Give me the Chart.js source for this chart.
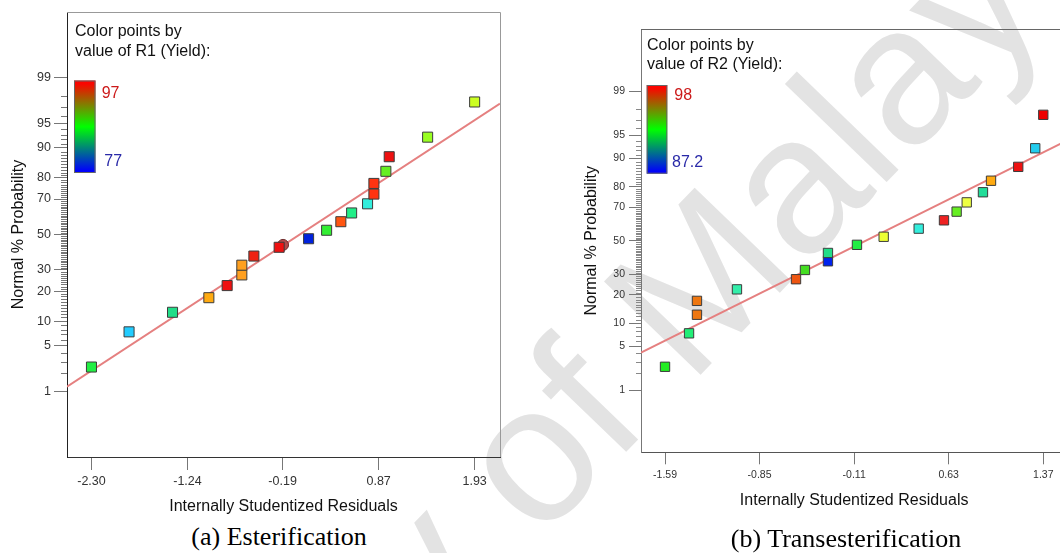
<!DOCTYPE html>
<html>
<head>
<meta charset="utf-8">
<script src="https://cdn.jsdelivr.net/npm/chart.js@4.4.1/dist/chart.umd.min.js"></script>
<style>
  html, body { margin: 0; padding: 0; background: #fff; overflow: hidden; }
  #page { position: relative; width: 1060px; height: 553px; overflow: hidden; background: #fff; }
  #mark { position: absolute; left: 0; top: 0; }
  canvas { position: absolute; top: 0; }
  .caption { position: absolute; font-family: "Liberation Serif", "Times New Roman", serif; font-size: 26px;
             line-height: 30px; color: #000; white-space: nowrap; transform: translateX(-50%); }
</style>
</head>
<body>
<div id="page">
  <svg id="mark" width="1060" height="553">
    <text id="markText" x="0" y="0" font-family="Liberation Sans, Arial, sans-serif"
          font-size="195" fill="#e3e3e3">University of Malaya</text>
  </svg>
  <canvas id="chartA" width="530" height="522" style="left:0px"></canvas>
  <canvas id="chartB" width="560" height="525" style="left:560px"></canvas>
  <div class="caption" id="capA" style="left:279px; top:522px">(a) Esterification</div>
  <div class="caption" id="capB" style="left:846px; top:524px">(b) Transesterification</div>
</div>
<script>
// ---- normal probability axis ticks (percent) ----
const yMajorTicks = [1, 5, 10, 20, 30, 50, 70, 80, 90, 95, 99];
const yRangePct = [0.05, 99.95];

// ---- (a) Esterification: R1 (Yield) ----
const residualsA = [-2.30, -1.885, -1.405, -1.004, -0.802, -0.640, -0.640, -0.507, -0.228, 0.097,
                    0.296, 0.453, 0.572, 0.748, 0.818, 0.818, 0.950, 0.987, 1.411, 1.93];
const probabilityA = [2.5, 7.5, 12.5, 17.5, 22.5, 27.5, 32.5, 37.5, 42.5, 47.5,
                      52.5, 57.5, 62.5, 67.5, 72.5, 77.5, 82.5, 87.5, 92.5, 97.5];
const pointColorsA = ['#22ee44', '#22ccff', '#22dd88', '#ffaa11', '#ee1111', '#ffa020', '#ffa020', '#ee2211',
                      '#ee1111', '#0022dd', '#33ee33', '#ff5511', '#22ee88', '#33eedd', '#ff3311', '#ff3311',
                      '#66ee22', '#ee1111', '#99ff22', '#ccff22'];
const fitLineA = [{ x: -2.57, p: 1.22 }, { x: 2.21, p: 97.35 }];
const markedPointA = [{ x: -0.185, p: 43.9 }];
const xTicksA = [-2.30, -1.24, -0.19, 0.87, 1.93];
const xRangeA = [-2.57, 2.21];
const keyTitleA = ['Color points by', 'value of R1 (Yield):'];
const keyMaxA = '97', keyMinA = '77';

// ---- (b) Transesterification: R2 (Yield) ----
const residualsB = [-1.59, -1.402, -1.340, -1.340, -1.027, -0.565, -0.495, -0.315, -0.315, -0.088,
                    0.121, 0.395, 0.593, 0.692, 0.771, 0.898, 0.961, 1.174, 1.307, 1.37];
const probabilityB = [2.5, 7.5, 12.5, 17.5, 22.5, 27.5, 32.5, 37.5, 42.5, 47.5,
                      52.5, 57.5, 62.5, 67.5, 72.5, 77.5, 82.5, 87.5, 92.5, 97.5];
const pointColorsB = ['#22ee22', '#22ee77', '#ee7711', '#ee7711', '#33eeaa', '#ee5511', '#44dd22', '#0022ee',
                      '#22dd88', '#22ee44', '#eeff33', '#33eedd', '#ee2222', '#66ee22', '#eeff44', '#22dd99',
                      '#ffaa11', '#ee1111', '#22ccee', '#ee0000'];
const fitLineB = [{ x: -1.778, p: 4.09 }, { x: 1.558, p: 94.1 }];
const xTicksB = [-1.59, -0.85, -0.11, 0.63, 1.37];
const xRangeB = [-1.778, 1.558];
const keyTitleB = ['Color points by', 'value of R2 (Yield):'];
const keyMaxB = '98', keyMinB = '87.2';

// Diagonal background text: centre of its "o" (index 11) goes to this spot
(function placeMark() {
  const t = document.getElementById('markText');
  const fs = 195, idx = 11, target = [540, 468], angle = -46;
  const cx = t.getStartPositionOfChar(idx).x + t.getSubStringLength(idx, 1) / 2;
  const cy = -0.26 * fs;
  t.setAttribute('transform', `translate(${target[0]} ${target[1]}) rotate(${angle}) translate(${-cx} ${-cy})`);
})();

// Inverse of the standard normal CDF (Acklam), percent in -> z out
function probit(pct) {
  const p = pct / 100;
  const a = [-3.969683028665376e+01, 2.209460984245205e+02, -2.759285104469687e+02, 1.383577518672690e+02, -3.066479806614716e+01, 2.506628277459239e+00];
  const b = [-5.447609879822406e+01, 1.615858368580409e+02, -1.556989798598866e+02, 6.680131188771972e+01, -1.328068155288572e+01];
  const c = [-7.784894002430293e-03, -3.223964580411365e-01, -2.400758277161838e+00, -2.549671020253380e+00, 4.374664141464968e+00, 2.938163982698783e+00];
  const d = [7.784695709041462e-03, 3.224671290700398e-01, 2.445134137142996e+00, 3.754408661907416e+00];
  const pl = 0.02425, ph = 1 - pl;
  let q, r;
  if (p < pl) {
    q = Math.sqrt(-2 * Math.log(p));
    return (((((c[0] * q + c[1]) * q + c[2]) * q + c[3]) * q + c[4]) * q + c[5]) / ((((d[0] * q + d[1]) * q + d[2]) * q + d[3]) * q + 1);
  }
  if (p <= ph) {
    q = p - 0.5; r = q * q;
    return (((((a[0] * r + a[1]) * r + a[2]) * r + a[3]) * r + a[4]) * r + a[5]) * q / (((((b[0] * r + b[1]) * r + b[2]) * r + b[3]) * r + b[4]) * r + 1);
  }
  q = Math.sqrt(-2 * Math.log(1 - p));
  return -(((((c[0] * q + c[1]) * q + c[2]) * q + c[3]) * q + c[4]) * q + c[5]) / ((((d[0] * q + d[1]) * q + d[2]) * q + d[3]) * q + 1);
}

const toPoints = (xs, ps) => xs.map((x, i) => ({ x, y: probit(ps[i]) }));
const toLine = pts => pts.map(d => ({ x: d.x, y: probit(d.p) }));

// Minor percent ticks, upper/right frame and the colour key
const probitKey = {
  id: 'probitKey',
  afterDraw(chart, args, o) {
    const { ctx, chartArea: a } = chart;
    const y = chart.scales.y;
    ctx.save();
    ctx.lineWidth = 1;
    ctx.strokeStyle = o.minorColor;
    ctx.beginPath();
    for (let p = 1; p <= 99; p++) {
      if (yMajorTicks.includes(p)) continue;
      const py = Math.round(y.getPixelForValue(probit(p))) + 0.5;
      ctx.moveTo(a.left - o.minorLength, py);
      ctx.lineTo(a.left, py);
    }
    ctx.stroke();

    const t = Math.round(a.top) + 0.5, r = Math.round(a.right) + 0.5;
    ctx.strokeStyle = o.frameColor;
    ctx.beginPath();
    ctx.moveTo(a.left, t); ctx.lineTo(r, t); ctx.lineTo(r, a.bottom);
    ctx.stroke();

    ctx.font = '16px "Liberation Sans", Arial, sans-serif';
    ctx.fillStyle = '#111';
    ctx.textAlign = 'left';
    ctx.textBaseline = 'alphabetic';
    o.title.forEach((line, i) => ctx.fillText(line, a.left + o.textX, a.top + o.textY[i]));

    const bx = a.left + o.bar[0], by = a.top + o.bar[1], bw = o.bar[2], bh = o.bar[3];
    const g = ctx.createLinearGradient(0, by, 0, by + bh);
    g.addColorStop(0, '#ff0000');
    g.addColorStop(0.04, '#f80800');
    g.addColorStop(0.5, '#00ff00');
    g.addColorStop(0.97, '#0004f8');
    g.addColorStop(1, '#0000ff');
    ctx.fillStyle = g;
    ctx.fillRect(bx, by, bw, bh);
    ctx.strokeStyle = '#666';
    ctx.strokeRect(bx + 0.5, by + 0.5, bw - 1, bh - 1);

    ctx.textBaseline = 'middle';
    ctx.fillStyle = '#cc1a1a';
    ctx.fillText(o.maxLabel, a.left + o.maxPos[0], a.top + o.maxPos[1]);
    ctx.fillStyle = '#2a2aa8';
    ctx.fillText(o.minLabel, a.left + o.minPos[0], a.top + o.minPos[1]);
    ctx.restore();
  }
};

function makeChart(id, cfg) {
  const datasets = [
    { type: 'line', data: toLine(cfg.fit), borderColor: '#e58080', borderWidth: 2, pointRadius: 0, order: 4 },
    { type: 'scatter', data: toPoints(cfg.xs, cfg.ps), pointStyle: 'rect', pointRadius: cfg.pointRadius,
      backgroundColor: cfg.colors, borderColor: '#3c3c3c', borderWidth: 1, order: 1 }
  ];
  if (cfg.marked) {
    datasets.push({ type: 'scatter', data: toLine(cfg.marked), pointStyle: 'circle', pointRadius: 5.5,
      backgroundColor: '#b24a4a', borderColor: '#6e2a2a', borderWidth: 1, order: 2 });
  }
  return new Chart(document.getElementById(id), {
    type: 'scatter',
    data: { datasets },
    plugins: [probitKey],
    options: {
      responsive: false,
      animation: false,
      events: [],
      layout: { padding: cfg.padding },
      plugins: { legend: { display: false }, tooltip: { enabled: false }, probitKey: cfg.key },
      scales: {
        x: {
          type: 'linear', min: cfg.xRange[0], max: cfg.xRange[1],
          afterBuildTicks: s => { s.ticks = cfg.xTicks.map(v => ({ value: v })); },
          afterFit: s => { s.height = cfg.xHeight; },
          ticks: { autoSkip: false, maxRotation: 0, padding: cfg.xTickPad, color: '#333',
                   font: { family: '"Liberation Sans", Arial, sans-serif', size: cfg.tickSize },
                   callback: v => v.toFixed(2) },
          grid: { drawOnChartArea: false, drawTicks: true, tickLength: cfg.xTickLen, tickColor: '#777' },
          border: { display: true, color: cfg.bottomColor, width: 1 },
          title: { display: true, text: 'Internally Studentized Residuals', color: '#111',
                   font: { family: '"Liberation Sans", Arial, sans-serif', size: 16 },
                   padding: { top: 0, bottom: cfg.xTitlePad } }
        },
        y: {
          type: 'linear', min: probit(yRangePct[0]), max: probit(yRangePct[1]),
          afterBuildTicks: s => { s.ticks = yMajorTicks.map(p => ({ value: probit(p) })); },
          afterFit: s => { s.width = cfg.yWidth; },
          ticks: { autoSkip: false, padding: cfg.yTickPad, color: '#333',
                   font: { family: '"Liberation Sans", Arial, sans-serif', size: cfg.tickSize },
                   callback: (v, i) => String(yMajorTicks[i]) },
          grid: { drawOnChartArea: false, drawTicks: true, tickLength: cfg.yTickLen, tickColor: '#777' },
          border: { display: true, color: cfg.leftColor, width: 1 },
          title: { display: true, text: 'Normal % Probability', color: '#111',
                   font: { family: '"Liberation Sans", Arial, sans-serif', size: 16 },
                   padding: { top: cfg.yTitlePad, bottom: 0 } }
        }
      }
    }
  });
}

makeChart('chartA', {
  xs: residualsA, ps: probabilityA, colors: pointColorsA, fit: fitLineA, marked: markedPointA,
  xTicks: xTicksA, xRange: xRangeA, pointRadius: 7.1,
  padding: { left: 0, top: 12, right: 30, bottom: 0 },
  xHeight: 65, yWidth: 67, tickSize: 12.5, xTickPad: 4.2, xTickLen: 13, yTickPad: 3, yTickLen: 13,
  xTitlePad: 5.7, yTitlePad: 9, bottomColor: '#333', leftColor: '#222',
  key: { title: keyTitleA, maxLabel: keyMaxA, minLabel: keyMinA, minorColor: '#777', minorLength: 6,
         frameColor: '#999', textX: 8, textY: [24, 44], bar: [7, 68.5, 21.5, 92.5],
         maxPos: [34.7, 82], minPos: [37.3, 150] }
});

makeChart('chartB', {
  xs: residualsB, ps: probabilityB, colors: pointColorsB, fit: fitLineB, marked: null,
  xTicks: xTicksB, xRange: xRangeB, pointRadius: 6.6,
  padding: { left: 0, top: 29.3, right: 52.7, bottom: 0 },
  xHeight: 72.7, yWidth: 81, tickSize: 10.5, xTickPad: 4.4, xTickLen: 12, yTickPad: 4, yTickLen: 12,
  xTitlePad: 14.7, yTitlePad: 22, bottomColor: '#555', leftColor: '#777',
  key: { title: keyTitleB, maxLabel: keyMaxB, minLabel: keyMinB, minorColor: '#888', minorLength: 5,
         frameColor: '#666', textX: 6, textY: [20.7, 39.7], bar: [5.7, 55.7, 20.6, 88.7],
         maxPos: [33.3, 66.7], minPos: [31, 133] }
});
</script>
</body>
</html>
